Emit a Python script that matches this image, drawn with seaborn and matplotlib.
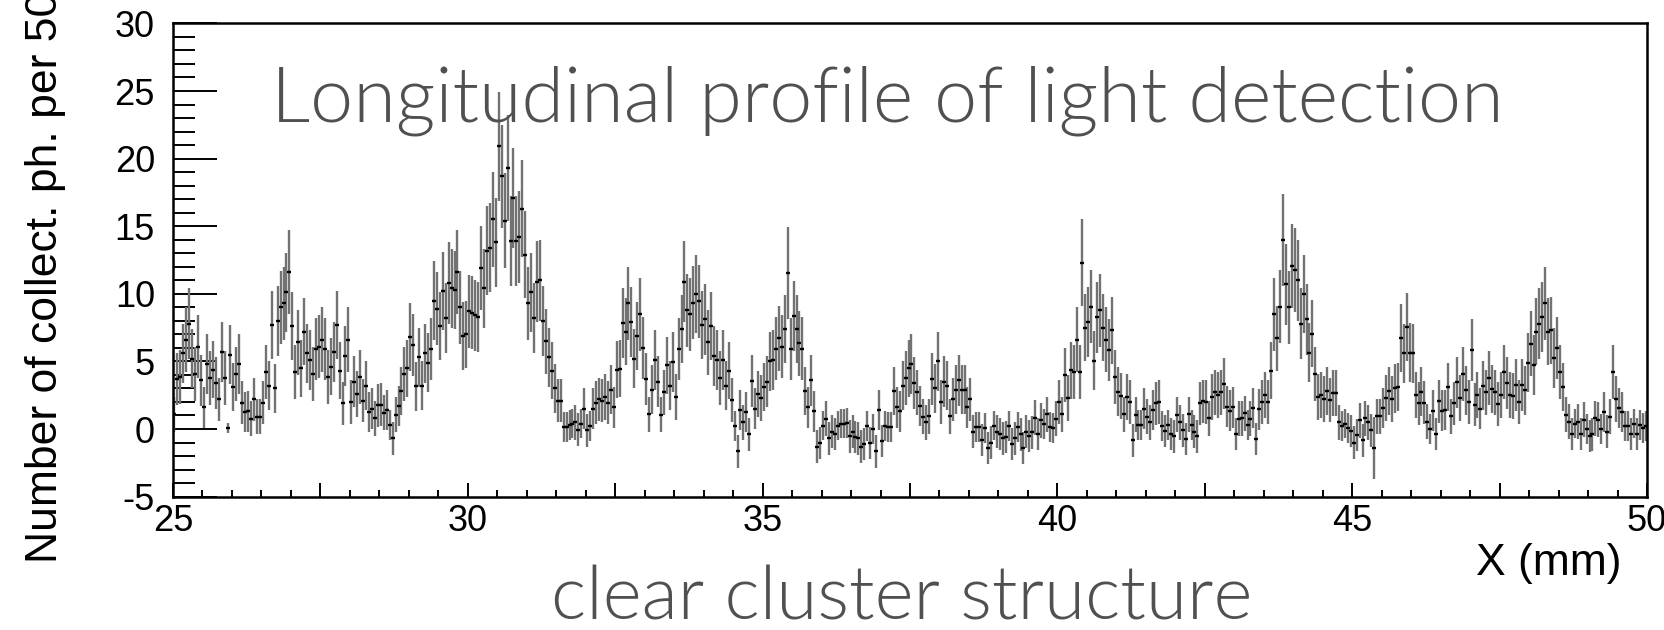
import numpy as np
import matplotlib
matplotlib.use("Agg")
import matplotlib.pyplot as plt
import seaborn as sns
from matplotlib.ticker import MultipleLocator, FixedLocator, FuncFormatter

# ---- data: number of collected photons per 50 um bin, X from 25 to 50 mm ----
x_min, x_max, bin_width = 25.0, 50.0, 0.05

counts_25_to_31p6 = [
    1.1, 3.7, 3.85, 5.6, 6.6, 7.8, 5.2, 4.1, 6.1, 3.6,
    1.6, 4.8, 3.8, 4.4, 3.4, 2.2, 5.7, 3.8, 0.07, 5.5,
    3.1, 4.1, 4.8, 1.95, 1.25, 1.3, 0.76, 2.2, 0.9, 0.9,
    1.95, 4.2, 3.2, 7.7, 3.0, 8.0, 9.0, 9.3, 10.1, 11.6,
    7.6, 4.2, 6.4, 4.5, 7.2, 5.6, 5.1, 4.1, 5.9, 6.1,
    6.6, 5.9, 3.85, 4.6, 5.7, 7.7, 4.3, 1.9, 5.4, 6.6,
    2.0, 3.5, 2.6, 3.85, 2.1, 3.2, 1.25, 1.5, 0.8, 1.75,
    1.8, 1.2, 1.4, 0.3, -0.7, 1.05, 1.7, 2.8, 4.1, 4.5,
    6.8, 6.2, 3.15, 5.3, 3.2, 5.6, 4.9, 5.9, 9.5, 8.9,
    7.6, 10.2, 8.2, 10.8, 10.4, 10.3, 11.6, 9.0, 6.9, 7.0,
    8.7, 8.6, 8.4, 8.3, 11.9, 10.4, 13.2, 13.4, 15.5, 13.8,
    20.9, 18.7, 15.4, 19.3, 13.9, 17.1, 13.9, 14.2, 16.3, 12.9,
    9.3, 10.1, 8.2, 10.9, 11.0, 8.0, 6.5, 5.3, 4.3, 3.0,
    2.1, 2.1,
]
errors_25_to_31p6 = [
    1.3, 1.9, 2.0, 2.2, 2.4, 2.6, 2.2, 2.0, 2.3, 1.9,
    1.5, 2.2, 2.0, 2.1, 1.9, 1.6, 2.2, 2.0, 0.4, 2.2,
    1.8, 2.0, 2.2, 1.6, 1.5, 1.5, 1.3, 1.6, 1.3, 1.3,
    1.6, 2.0, 1.8, 2.5, 1.8, 2.6, 2.7, 2.7, 2.9, 3.1,
    2.5, 2.0, 2.4, 2.1, 2.5, 2.2, 2.2, 2.0, 2.3, 2.3,
    2.4, 2.3, 2.0, 2.1, 2.2, 2.5, 2.1, 1.6, 2.2, 2.4,
    1.6, 1.9, 1.7, 2.0, 1.6, 1.8, 1.5, 1.5, 1.3, 1.6,
    1.6, 1.3, 1.5, 1.1, 1.2, 1.3, 1.5, 1.8, 2.0, 2.1,
    2.5, 2.3, 1.8, 2.2, 1.8, 2.2, 2.2, 2.3, 2.9, 2.7,
    2.5, 2.9, 2.6, 3.0, 2.9, 2.9, 3.1, 2.7, 2.5, 2.5,
    2.7, 2.7, 2.6, 2.6, 3.1, 2.9, 3.3, 3.3, 3.5, 3.3,
    4.0, 3.8, 3.5, 3.9, 3.3, 3.7, 3.3, 3.4, 3.6, 3.2,
    2.7, 2.9, 2.6, 3.0, 3.0, 2.6, 2.4, 2.2, 2.1, 1.8,
    1.6, 1.6,
]

counts_31p6_to_39p1 = [
    0.15, 0.15, 0.3, 0.4, 0.5, -0.05, 0.4, 1.5, -0.1, 0.2,
    1.5, 1.95, 2.2, 2.1, 2.4, 1.95, 2.9, 1.6, 4.4, 4.45,
    7.85, 7.2, 9.3, 7.9, 5.2, 6.9, 8.5, 6.0, 3.7, 1.1,
    2.9, 5.1, 3.5, 1.05, 2.7, 4.7, 3.2, 4.95, 2.35, 5.9,
    7.4, 10.9, 8.8, 8.5, 9.35, 10.0, 9.45, 7.7, 8.1, 6.4,
    7.6, 5.4, 5.1, 3.8, 5.1, 3.2, 4.3, 2.15, 0.2, -1.65,
    1.4, 0.5, 1.25, -0.4, 3.55, 1.5, 2.6, 2.3, 3.1, 3.5,
    5.0, 5.1, 5.95, 6.7, 6.1, 7.4, 11.55, 5.9, 8.35, 7.4,
    6.35, 5.95, 2.8, 1.6, 3.6, 1.3, -1.3, -1.05, 0.25, 0.75,
    -0.7, -0.2, -0.35, 0.25, 0.4, 0.4, 0.45, -0.55, -0.2, -0.6,
    -0.7, -1.3, -1.1, 0.2, -1.05, 0.0, -1.65, 1.4, -0.9, 0.2,
    0.15, 0.15, 2.8, 1.6, 1.3, 3.2, 3.8, 4.5, 4.8, 3.4,
    2.7, 1.7, 0.9, 0.5, 0.95, 3.7, 3.0, 5.0, 2.0, 3.5,
    3.2, 0.95, 2.2, 2.9, 3.6, 2.9, 2.9, 1.6, 2.2, -0.2,
    0.15, 0.15, -0.8, 0.1, -1.4, -1.0, 0.25, -0.2, -0.35, -0.7,
]
errors_31p6_to_39p1 = [
    1.1, 1.1, 1.1, 1.1, 1.3, 1.2, 1.1, 1.5, 1.2, 1.1,
    1.5, 1.6, 1.6, 1.6, 1.7, 1.6, 1.8, 1.5, 2.1, 2.1,
    2.6, 2.5, 2.7, 2.6, 2.2, 2.5, 2.7, 2.3, 1.9, 1.3,
    1.8, 2.2, 1.9, 1.3, 1.7, 2.1, 1.8, 2.2, 1.7, 2.3,
    2.5, 3.0, 2.7, 2.7, 2.7, 2.9, 2.7, 2.5, 2.6, 2.4,
    2.5, 2.2, 2.2, 2.0, 2.2, 1.8, 2.1, 1.6, 1.1, 1.2,
    1.5, 1.3, 1.5, 1.2, 1.9, 1.5, 1.7, 1.7, 1.8, 1.9,
    2.2, 2.2, 2.3, 2.4, 2.3, 2.5, 3.4, 2.3, 2.6, 2.5,
    2.4, 2.3, 1.8, 1.5, 1.9, 1.5, 1.2, 1.2, 1.1, 1.3,
    1.2, 1.2, 1.2, 1.1, 1.1, 1.1, 1.1, 1.2, 1.2, 1.2,
    1.2, 1.2, 1.2, 1.1, 1.2, 1.1, 1.2, 1.5, 1.2, 1.1,
    1.1, 1.1, 1.8, 1.5, 1.5, 1.8, 2.0, 2.1, 2.2, 1.9,
    1.7, 1.5, 1.3, 1.3, 1.3, 1.9, 1.8, 2.2, 1.6, 1.9,
    1.8, 1.3, 1.6, 1.8, 1.9, 1.8, 1.8, 1.5, 1.6, 1.2,
    1.1, 1.1, 1.2, 1.1, 1.2, 1.2, 1.1, 1.2, 1.2, 1.2,
]

counts_39p1_to_50 = [
    -0.6, 0.2, -1.1, -0.7, 0.15, -0.4, -1.4, -0.2, -0.5, -0.25,
    0.85, -0.35, 0.65, 0.35, 1.1, 0.15, 0.1, 0.75, 2.0, 1.1,
    4.0, 2.3, 4.35, 4.2, 6.6, 4.2, 12.3, 7.5, 7.9, 9.05,
    5.05, 8.25, 8.8, 7.5, 6.6, 5.85, 7.3, 3.85, 2.75, 2.45,
    1.1, 2.4, 2.0, -0.85, 1.05, 0.3, 0.3, 1.5, 0.9, 0.5,
    1.4, 1.9, 2.0, 0.2, -0.15, 0.3, -0.35, -0.55, 1.05, 0.5,
    -0.1, -0.75, 1.1, 0.3, -0.2, -0.55, 1.9, 2.05, 2.0, 0.8,
    2.4, 2.7, 2.55, 2.7, 3.35, 1.65, 1.35, 1.6, -0.35, 0.75,
    0.8, 1.15, 0.3, 0.75, 1.55, -0.75, 1.45, 2.0, 2.5, 2.0,
    4.3, 8.5, 6.7, 9.05, 14.0, 10.7, 9.0, 12.05, 11.75, 11.0,
    7.8, 10.0, 8.1, 5.65, 7.05, 4.05, 2.4, 2.55, 2.25, 2.8,
    2.15, 2.65, 2.65, 0.5, 0.2, 0.4, 0.1, -0.15, -1.0, -0.45,
    0.65, -0.85, 0.8, 0.5, -0.1, -1.4, 0.95, 0.95, 1.55, 2.3,
    2.8, 2.25, 3.0, 3.1, 6.75, 5.6, 7.55, 5.65, 5.6, 2.55,
    1.9, 2.75, 1.95, 0.55, 0.0, 1.35, -0.35, 2.05, 1.35, 1.4,
    3.1, 0.95, 1.9, 3.45, 2.3, 4.1, 2.85, 2.0, 5.85, 1.8,
    2.5, 1.5, 3.2, 2.7, 3.75, 2.95, 2.7, 1.85, 2.55, 4.2,
    3.4, 2.55, 2.45, 3.25, 2.0, 3.25, 2.85, 4.9, 6.3, 4.75,
    7.2, 7.8, 8.3, 9.3, 7.2, 7.3, 5.25, 6.0, 4.2, 3.1,
    1.05, 0.55, -0.35, 0.4, 0.55, -0.35, 0.7, 0.0, -0.5, -0.4,
    0.8, 0.7, 0.0, 1.25, -0.2, 0.9, 4.2, 2.25, 1.55, 1.25,
    0.2, 0.2, -0.35, 0.4, -0.35, 0.3, 0.1, 0.2,
]
errors_39p1_to_50 = [
    1.2, 1.1, 1.2, 1.2, 1.1, 1.2, 1.2, 1.2, 1.2, 1.2,
    1.3, 1.2, 1.3, 1.1, 1.3, 1.1, 1.1, 1.3, 1.6, 1.3,
    2.0, 1.7, 2.1, 2.0, 2.4, 2.0, 3.2, 2.5, 2.6, 2.7,
    2.2, 2.6, 2.7, 2.5, 2.4, 2.3, 2.5, 2.0, 1.8, 1.7,
    1.3, 1.7, 1.6, 1.2, 1.3, 1.1, 1.1, 1.5, 1.3, 1.3,
    1.5, 1.6, 1.6, 1.1, 1.2, 1.1, 1.2, 1.2, 1.3, 1.3,
    1.2, 1.2, 1.3, 1.1, 1.2, 1.2, 1.6, 1.6, 1.6, 1.3,
    1.7, 1.7, 1.7, 1.7, 1.9, 1.5, 1.5, 1.5, 1.2, 1.3,
    1.3, 1.3, 1.1, 1.3, 1.5, 1.2, 1.5, 1.6, 1.7, 1.6,
    2.1, 2.7, 2.4, 2.7, 3.4, 3.0, 2.7, 3.1, 3.1, 3.0,
    2.6, 2.9, 2.6, 2.2, 2.5, 2.0, 1.7, 1.7, 1.7, 1.8,
    1.6, 1.7, 1.7, 1.3, 1.1, 1.1, 1.1, 1.2, 1.2, 1.2,
    1.3, 1.2, 1.3, 1.3, 1.2, 2.3, 1.3, 1.3, 1.5, 1.7,
    1.8, 1.7, 1.8, 1.8, 2.5, 2.2, 2.5, 2.2, 2.2, 1.7,
    1.6, 1.8, 1.6, 1.3, 1.1, 1.5, 1.2, 1.6, 1.5, 1.5,
    1.8, 1.3, 1.6, 1.9, 1.7, 2.0, 1.8, 1.6, 2.3, 1.6,
    1.7, 1.5, 1.8, 1.7, 2.0, 1.8, 1.7, 1.6, 1.7, 2.0,
    1.9, 1.7, 1.7, 1.9, 1.6, 1.9, 1.8, 2.2, 2.4, 2.2,
    2.5, 2.6, 2.6, 2.7, 2.5, 2.5, 2.2, 2.3, 2.0, 1.8,
    1.3, 1.3, 1.2, 1.1, 1.3, 1.2, 1.3, 1.1, 1.2, 1.2,
    1.3, 1.3, 1.1, 1.5, 1.2, 1.3, 2.0, 1.7, 1.5, 1.5,
    1.1, 1.1, 1.2, 1.1, 1.2, 1.1, 1.1, 1.1,
]

x_major_ticks = [25, 27.5, 30, 32.5, 35, 37.5, 40, 42.5, 45, 47.5, 50]
y_tick_values = [-5, 0, 5, 10, 15, 20, 25, 30]

title_text = "Longitudinal profile of light detection"
subtitle_text = "clear cluster structure"
y_label_text = "Number of collect. ph. per 50 \u00b5m"
x_label_text = "X (mm)"

# ---- assemble ----
values = np.array(counts_25_to_31p6 + counts_31p6_to_39p1 + counts_39p1_to_50)
errors = np.array(errors_25_to_31p6 + errors_31p6_to_39p1 + errors_39p1_to_50)
centers = x_min + bin_width * (np.arange(len(values)) + 0.5)

sns.set_style("ticks")
plt.rcParams["font.family"] = ["Liberation Sans", "DejaVu Sans"]
plt.rcParams["axes.unicode_minus"] = False

W, H = 1665, 630
fig = plt.figure(figsize=(W / 100, H / 100), dpi=100)
ax = fig.add_axes([173 / W, 1 - 496.6 / H, 1474 / W, 473.2 / H])

ax.vlines(centers, values - errors, values + errors, colors="#727272",
          linewidth=1.7, zorder=2)
sns.scatterplot(x=centers, y=values, marker="_", s=10, color="black",
                linewidth=1.7, ax=ax, zorder=3, legend=False)

ax.set_xlim(x_min, x_max)
ax.set_ylim(-5, 30)
ax.set_xlabel("")
ax.set_ylabel("")

ax.xaxis.set_major_locator(FixedLocator(x_major_ticks))
ax.xaxis.set_major_formatter(FuncFormatter(
    lambda v, p: f"{v:g}" if abs(v / 5 - round(v / 5)) < 1e-6 else ""))
ax.xaxis.set_minor_locator(MultipleLocator(0.5))
ax.yaxis.set_major_locator(FixedLocator(y_tick_values))
ax.yaxis.set_major_formatter(FuncFormatter(lambda v, p: f"{v:g}"))
ax.yaxis.set_minor_locator(MultipleLocator(1))

ax.tick_params(axis="x", which="major", direction="in", length=10, width=1.4,
               labelsize=26, pad=5, top=False, colors="black")
ax.tick_params(axis="x", which="minor", direction="in", length=5, width=1.4,
               top=False, colors="black")
ax.tick_params(axis="y", which="major", direction="in", length=31.7, width=1.4,
               labelsize=26, pad=13, right=False, colors="black")
ax.tick_params(axis="y", which="minor", direction="in", length=15.8, width=1.4,
               right=False, colors="black")
for s in ax.spines.values():
    s.set_linewidth(1.8)
    s.set_color("black")

fig.text(66 / W, 1 - 563 / H, y_label_text, rotation=90, ha="right",
         va="bottom", fontsize=32, color="black")
fig.text(1622 / W, 1 - 575 / H, x_label_text, ha="right", va="baseline",
         fontsize=32, color="black")

title = fig.text(271 / W, 1 - 121 / H, title_text, family=["Lato", "DejaVu Sans"],
                 fontweight=300, color="#505050", fontsize=54,
                 ha="left", va="baseline", zorder=10)
sub = fig.text(551 / W, 1 - 620 / H, subtitle_text, family=["Lato", "DejaVu Sans"],
               fontweight=300, color="#505050", fontsize=46,
               ha="left", va="baseline", zorder=10)

fig.canvas.draw()
renderer = fig.canvas.get_renderer()
for t, target in [(title, 1232), (sub, 702)]:
    bb = t.get_window_extent(renderer)
    t.set_fontsize(t.get_fontsize() * target / bb.width)

fig.savefig("out.png", dpi=100)
